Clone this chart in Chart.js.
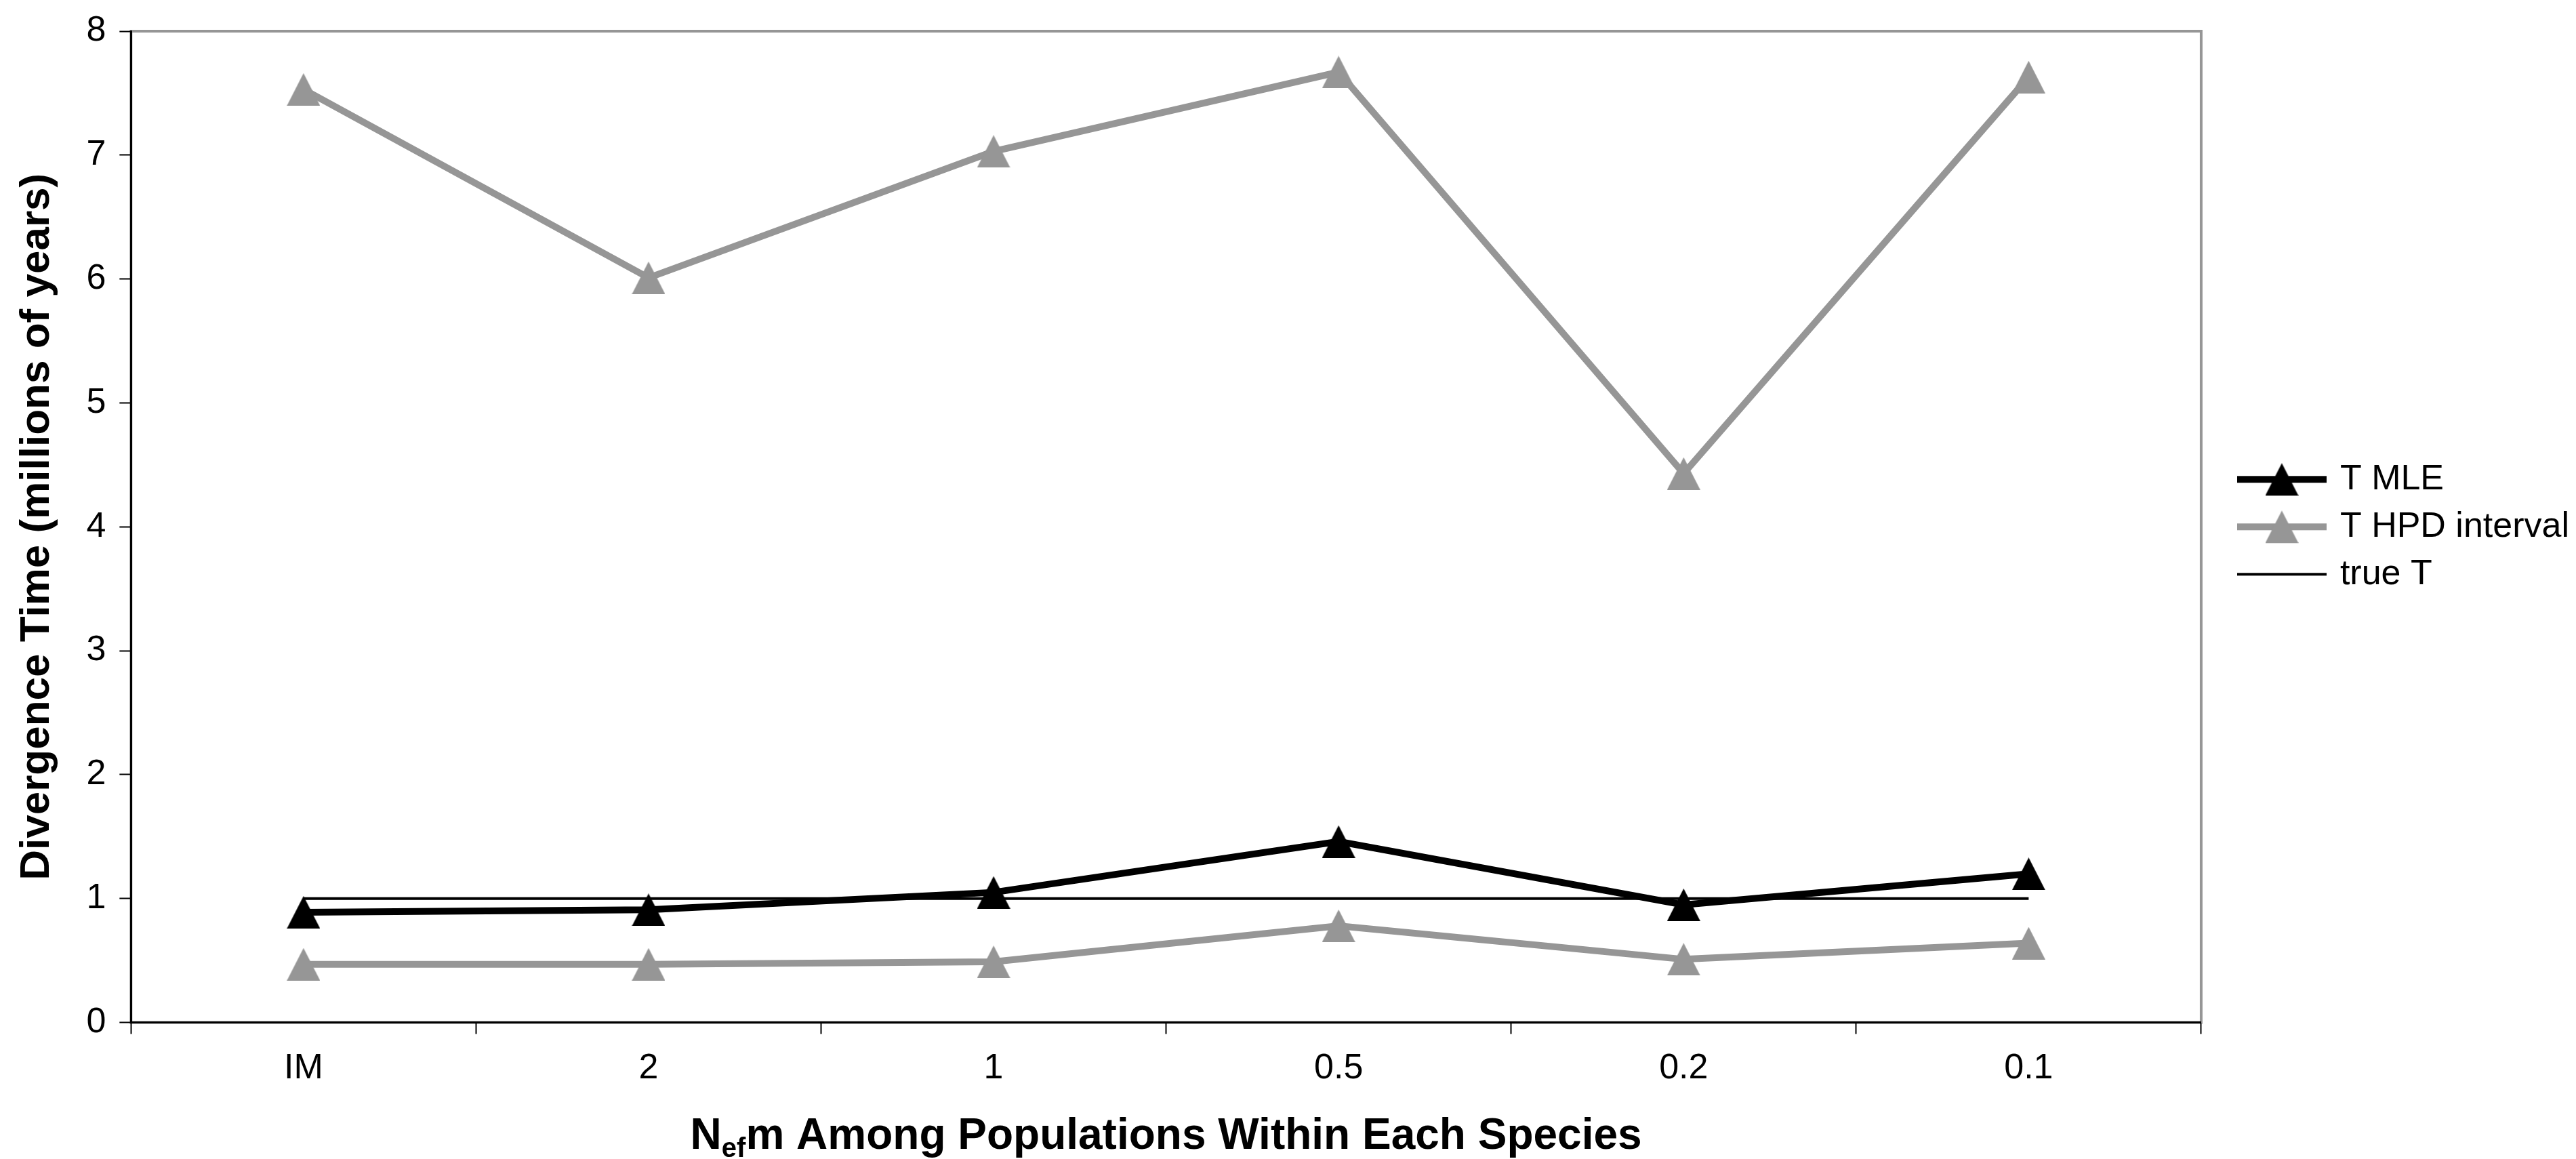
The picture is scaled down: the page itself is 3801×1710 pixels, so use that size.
<!DOCTYPE html>
<html>
<head>
<meta charset="utf-8">
<title>Divergence time vs Nefm</title>
<script src="https://cdn.jsdelivr.net/npm/chart.js@4.4.1/dist/chart.umd.min.js"></script>
<style>
  html, body { margin: 0; padding: 0; background: #fff; }
  #wrap { width: 3801px; height: 1710px; position: relative; }
</style>
</head>
<body>
<div id="wrap"><canvas id="chart"></canvas></div>
<script>
// ---- data ----
const CATEGORIES = ["IM", "2", "1", "0.5", "0.2", "0.1"];
const T_MLE      = [0.89, 0.91, 1.05, 1.46, 0.95, 1.20];
const HPD_UPPER  = [7.53, 6.01, 7.03, 7.67, 4.43, 7.63];
const HPD_LOWER  = [0.47, 0.47, 0.49, 0.78, 0.51, 0.64];
const TRUE_T     = [1, 1, 1, 1, 1, 1];
const Y_MIN = 0, Y_MAX = 8, Y_STEP = 1;

const BLACK = "#000000", GRAY = "#969696";
const FONT = "'Liberation Sans', Arial, Helvetica, sans-serif";

// Excel-style triangle marker, roughly as tall as it is wide.
function triangle(color, w, h) {
  const c = document.createElement("canvas");
  c.width = w; c.height = h;
  const g = c.getContext("2d");
  g.fillStyle = color;
  g.beginPath();
  g.moveTo(w / 2, 0); g.lineTo(w, h); g.lineTo(0, h); g.closePath();
  g.fill();
  return c;
}

// Legend swatch: a short line, optionally with the marker on it.
function swatch(color, lineW, marker) {
  const c = document.createElement("canvas");
  c.width = 132; c.height = 50;
  const g = c.getContext("2d");
  g.strokeStyle = color; g.lineWidth = lineW;
  g.beginPath(); g.moveTo(0, 25); g.lineTo(132, 25); g.stroke();
  if (marker) g.drawImage(marker, 66 - marker.width / 2, 25 - marker.height / 2);
  return c;
}

const triBlack = triangle(BLACK, 49, 48);
const triGray  = triangle(GRAY, 49, 48);
const ICONS = [swatch(BLACK, 10, triBlack), swatch(GRAY, 10, triGray), null, swatch(BLACK, 4, null)];

// gray frame round the plot area; the black axes are drawn over its left/bottom sides
const plotFrame = {
  id: "plotFrame",
  beforeDraw(chart) {
    const { ctx, chartArea: a } = chart;
    ctx.save();
    ctx.strokeStyle = GRAY; ctx.lineWidth = 4;
    ctx.strokeRect(a.left, a.top, a.right - a.left, a.bottom - a.top);
    ctx.restore();
  }
};

// x-axis title with the "ef" subscript on N
const xTitle = {
  id: "xTitle",
  afterDraw(chart) {
    const { ctx, chartArea: a } = chart;
    const big = "bold 64px " + FONT, small = "bold 40px " + FONT;
    const parts = [["N", big, 0], ["ef", small, 12], ["m Among Populations Within Each Species", big, 0]];
    ctx.save();
    ctx.fillStyle = BLACK; ctx.textAlign = "left"; ctx.textBaseline = "alphabetic";
    let total = 0;
    for (const p of parts) { ctx.font = p[1]; total += ctx.measureText(p[0]).width; }
    let x = (a.left + a.right) / 2 - total / 2;
    const base = chart.height - 15;
    for (const p of parts) {
      ctx.font = p[1];
      ctx.fillText(p[0], x, base + p[2]);
      x += ctx.measureText(p[0]).width;
    }
    ctx.restore();
  }
};

new Chart(document.getElementById("chart"), {
  type: "line",
  data: {
    labels: CATEGORIES,
    datasets: [
      { label: "T MLE", data: T_MLE, borderColor: BLACK, backgroundColor: BLACK,
        borderWidth: 10, pointStyle: triBlack, pointRadius: 24, tension: 0 },
      { label: "T HPD interval", data: HPD_UPPER, borderColor: GRAY, backgroundColor: GRAY,
        borderWidth: 10, pointStyle: triGray, pointRadius: 24, tension: 0 },
      { label: "T HPD interval (lower)", data: HPD_LOWER, borderColor: GRAY, backgroundColor: GRAY,
        borderWidth: 10, pointStyle: triGray, pointRadius: 24, tension: 0 },
      { label: "true T", data: TRUE_T, borderColor: BLACK, borderWidth: 4, pointRadius: 0, tension: 0 },
    ]
  },
  options: {
    responsive: true, maintainAspectRatio: false, animation: false, events: [],
    layout: { padding: { top: 10, right: 0, bottom: 82, left: 0 } },
    plugins: {
      tooltip: { enabled: false },
      legend: {
        position: "right", align: "center", fullSize: false,
        labels: {
          color: BLACK, font: { family: FONT, size: 52 }, padding: 18,
          usePointStyle: true, pointStyleWidth: 120,
          generateLabels(chart) {
            return Chart.defaults.plugins.legend.labels.generateLabels(chart)
              .filter(it => it.datasetIndex !== 2)
              .map(it => Object.assign(it, { pointStyle: ICONS[it.datasetIndex] }));
          }
        }
      }
    },
    scales: {
      x: {
        offset: true,
        grid: { offset: true, drawOnChartArea: false, drawTicks: true, tickLength: 17, tickColor: BLACK, tickWidth: 2 },
        border: { color: BLACK, width: 3 },
        ticks: { color: BLACK, font: { family: FONT, size: 52 }, padding: 20, maxRotation: 0, autoSkip: false }
      },
      y: {
        min: Y_MIN, max: Y_MAX,
        grid: { drawOnChartArea: false, drawTicks: true, tickLength: 17, tickColor: BLACK, tickWidth: 2 },
        border: { color: BLACK, width: 3 },
        ticks: { stepSize: Y_STEP, color: BLACK, font: { family: FONT, size: 52, lineHeight: 1 }, padding: 20 },
        title: { display: true, text: "Divergence Time (millions of years)", color: BLACK,
                 font: { family: FONT, size: 62, weight: "bold" }, padding: { top: 18, bottom: 15 } }
      },
      // spacer between the plot frame and the legend
      gap: { type: "linear", position: "right", display: true,
             grid: { display: false }, border: { display: false }, ticks: { display: false },
             afterFit(s) { s.width = 41; } }
    }
  },
  plugins: [plotFrame, xTitle]
});
</script>
</body>
</html>
